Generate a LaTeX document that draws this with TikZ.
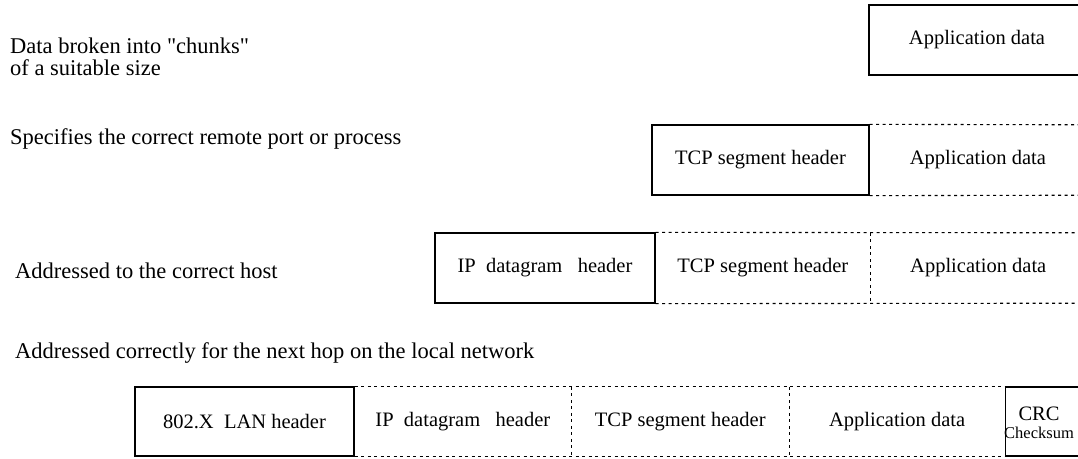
\documentclass[tikz,border=0pt]{standalone}
\usepackage{fontspec}
\setmainfont{Liberation Serif}
\usetikzlibrary{calc}

\begin{document}
\begin{tikzpicture}[x=1pt,y=-1pt,
	cell/.style={minimum height=70pt, inner sep=0pt, font=\fontsize{20.5}{22}\selectfont},
	hdr/.style={cell, draw, line width=1.3pt},
	dots/.style={line width=1.1pt, dash pattern=on 3pt off 3.5pt},
	note/.style={anchor=base west, inner sep=0pt, font=\fontsize{22.5}{24}\selectfont}]
				%%%%% START %%%%%
				\useasboundingbox (0,0) rectangle (1078,458);

				% application layer
				\node[note] (chunks) at (10,53) {Data broken into \textquotedbl chunks\textquotedbl};
				\node[note] (chunks2) at (10,75) {of a suitable size};
				\node[hdr, minimum width=216pt] (app1) at (977,40) {Application data};

				% transport layer
				\node[note] (port) at (10,144) {Specifies the correct remote port or process};
				\node[hdr, minimum width=217pt] (tcp2) at (760.5,160) {TCP segment header};
				\node[cell, minimum width=216pt, anchor=west] (app2) at (tcp2.east) {Application data};
				\draw[dots] (tcp2.north east) -- (app2.north east);
				\draw[dots] (tcp2.south east) -- (app2.south east);

				% network layer
				\node[note] (host) at (15,278) {Addressed to the correct host};
				\node[hdr, minimum width=220pt] (ip3) at (545,268) {IP\ \ datagram\ \ \ header};
				\node[cell, minimum width=214pt, anchor=west] (tcp3) at (ip3.east) {TCP segment header};
				\node[cell, minimum width=216pt, anchor=west] (app3) at (tcp3.east) {Application data};
				\draw[dots] (ip3.north east) -- (app3.north east);
				\draw[dots] (ip3.south east) -- (app3.south east);
				\draw[dots] (tcp3.north east) -- (tcp3.south east);

				% link layer
				\node[note] (hop) at (15,358) {Addressed correctly for the next hop on the local network};
				\node[hdr, minimum width=219pt, minimum height=69pt] (lan4) at (244.5,421.5) {802.X\ \ LAN header};
				\node[cell, minimum width=216pt, minimum height=69pt, anchor=west] (ip4) at (lan4.east) {IP\ \ datagram\ \ \ header};
				\node[cell, minimum width=218pt, minimum height=69pt, anchor=west] (tcp4) at (ip4.east) {TCP segment header};
				\node[cell, minimum width=215pt, minimum height=69pt, anchor=west] (app4) at (tcp4.east) {Application data};
				\node[hdr, minimum width=85pt, minimum height=69pt, anchor=west] (crc4) at (app4.east) {};
				\node[cell, minimum height=0pt, align=center] (crc) at (1039,423)
					{CRC\\[-4pt]{\fontsize{16.5}{18}\selectfont Checksum}};
				\draw[dots] (lan4.north east) -- (crc4.north west);
				\draw[dots] (lan4.south east) -- (crc4.south west);
				\draw[dots] (ip4.north east) -- (ip4.south east);
				\draw[dots] (tcp4.north east) -- (tcp4.south east);
				%%%%% END %%%%%
\end{tikzpicture}
\end{document}
